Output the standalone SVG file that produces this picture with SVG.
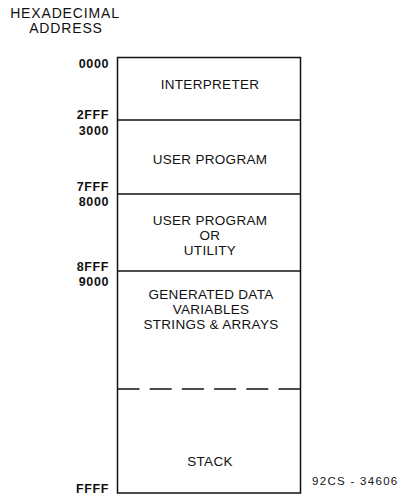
<svg xmlns="http://www.w3.org/2000/svg" width="400" height="500" viewBox="0 0 400 500">
<style>
.hdr{font-family:"Liberation Sans",Arial,sans-serif;font-size:14px;letter-spacing:0.85px;fill:#111;text-anchor:middle}
.addr{font-family:"Liberation Sans",Arial,sans-serif;font-size:12.5px;font-weight:bold;letter-spacing:0.6px;fill:#111;text-anchor:end}
.lbl{font-family:"Liberation Sans",Arial,sans-serif;font-size:13.5px;letter-spacing:0.3px;fill:#111;text-anchor:middle}
.note{font-family:"Liberation Sans",Arial,sans-serif;font-size:11.5px;letter-spacing:1.3px;fill:#111}
.box{fill:#fff;stroke:#111;stroke-width:1.5}
.div{stroke:#111;stroke-width:1.5;fill:none}
</style>
<rect width="400" height="500" fill="#fff"/>
<g id="header">
<text class="hdr" x="65" y="17.5">HEXADECIMAL</text>
<text class="hdr" x="66" y="32.5">ADDRESS</text>
</g>
<g id="addresses">
<text class="addr" x="109" y="68">0000</text>
<text class="addr" x="109" y="119">2FFF</text>
<text class="addr" x="109" y="135">3000</text>
<text class="addr" x="109" y="191">7FFF</text>
<text class="addr" x="109" y="206">8000</text>
<text class="addr" x="109" y="271">8FFF</text>
<text class="addr" x="109" y="286">9000</text>
<text class="addr" x="109" y="493">FFFF</text>
</g>
<g id="memory-box">
<rect class="box" x="117.5" y="57.5" width="183" height="435.5"/>
</g>
<g id="connectors">
<line class="div" x1="117.5" y1="120" x2="300.5" y2="120"/>
<line class="div" x1="117.5" y1="194" x2="300.5" y2="194"/>
<line class="div" x1="117.5" y1="271" x2="300.5" y2="271"/>
<line class="div" x1="117.5" y1="389" x2="300.5" y2="389" stroke-dasharray="22 10.2"/>
</g>
<g id="interpreter">
<text class="lbl" x="210" y="89">INTERPRETER</text>
</g>
<g id="user-program">
<text class="lbl" x="210" y="164">USER PROGRAM</text>
</g>
<g id="user-program-or-utility">
<text class="lbl" x="210" y="225">USER PROGRAM</text>
<text class="lbl" x="210" y="240">OR</text>
<text class="lbl" x="210" y="255">UTILITY</text>
</g>
<g id="generated-data">
<text class="lbl" x="211" y="299">GENERATED DATA</text>
<text class="lbl" x="211" y="314">VARIABLES</text>
<text class="lbl" x="211" y="329">STRINGS &amp; ARRAYS</text>
</g>
<g id="stack">
<text class="lbl" x="210" y="465.5">STACK</text>
</g>
<g id="figure-number">
<text class="note" x="312" y="485">92CS - 34606</text>
</g>
</svg>
